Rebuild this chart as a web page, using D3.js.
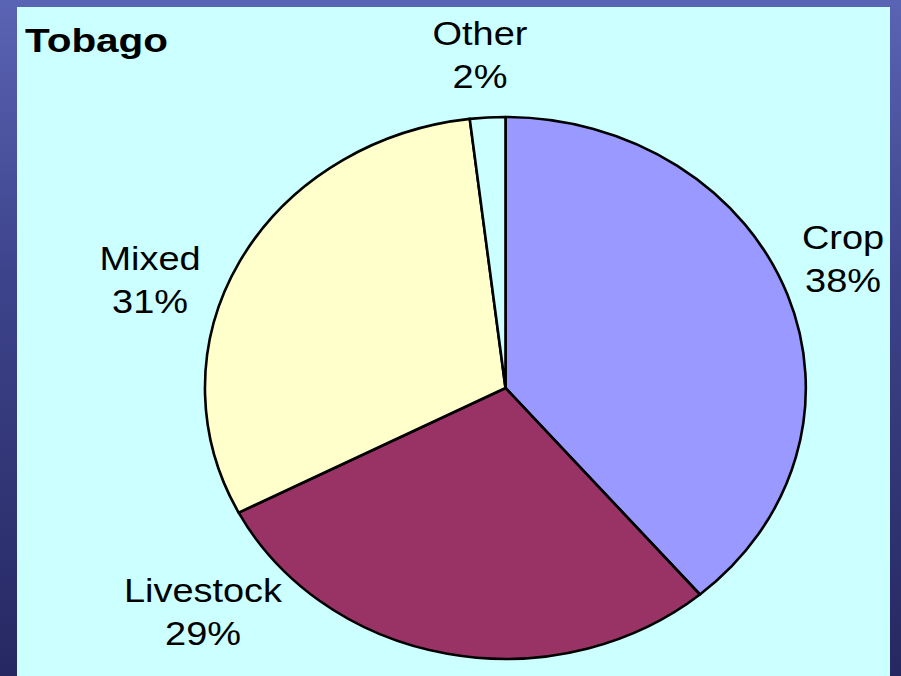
<!DOCTYPE html>
<html>
<head>
<meta charset="utf-8">
<script src="https://cdn.jsdelivr.net/npm/d3@7"></script>
<style>
  html, body { margin: 0; padding: 0; background: #2a2c6c; overflow: hidden; }
  svg { display: block; }
  text { font-family: "Liberation Sans", Arial, sans-serif; fill: #000; }
</style>
</head>
<body>
<script>
// ---- data ----
const categories = ["Crop", "Livestock", "Mixed", "Other"];
const values = [38.8, 28.6, 30.7, 1.9];
const pctLabels = ["38%", "29%", "31%", "2%"];
const colors = ["#9999ff", "#993366", "#ffffcc", "#ccffff"];
const title = "Tobago";

// ---- layout (not data) ----
const W = 901, H = 676;
const cx = 505.5, cy = 388, rx = 300.5, ry = 271;
const labelPos = { // centre x, first-line baseline y
  "Crop": [843, 249],
  "Livestock": [203, 602],
  "Mixed": [150, 270],
  "Other": [480, 45]
};
const fontSize = 33, lineGap = 43, stretch = 1.15;

const svg = d3.select("body").append("svg").attr("width", W).attr("height", H);
const defs = svg.append("defs");
const grad = defs.append("linearGradient").attr("id", "bg").attr("x1", 0).attr("y1", 0).attr("x2", 0).attr("y2", 1);
grad.append("stop").attr("offset", "0%").attr("stop-color", "#5a64b4");
grad.append("stop").attr("offset", "40%").attr("stop-color", "#3e448c");
grad.append("stop").attr("offset", "100%").attr("stop-color", "#262862");
svg.append("rect").attr("width", W).attr("height", H).attr("fill", "url(#bg)");

// panel
svg.append("rect").attr("x", 17).attr("y", 7).attr("width", 873).attr("height", H - 7).attr("fill", "#ccffff");

// title
svg.append("text").attr("transform", `translate(25,52) scale(1.19,1)`)
  .attr("font-size", 34).attr("font-weight", "bold").text(title);

// pie
const pie = d3.pie().sort(null).value(d => d.v);
const data = categories.map((c, i) => ({ c, v: values[i], color: colors[i], pct: pctLabels[i] }));
const arcs = pie(data);
const arc = d3.arc().innerRadius(0).outerRadius(1);

const g = svg.append("g").attr("transform", `translate(${cx},${cy}) scale(${rx},${ry})`);
g.selectAll("path").data(arcs).join("path")
  .attr("d", arc)
  .attr("fill", d => d.data.color)
  .attr("stroke", "#000")
  .attr("stroke-width", 2.6)
  .attr("stroke-linejoin", "round")
  .attr("vector-effect", "non-scaling-stroke");

// labels
const lg = svg.append("g");
arcs.forEach(a => {
  const [x, y] = labelPos[a.data.c];
  const t = lg.append("g").attr("transform", `translate(${x},${y}) scale(${stretch},1)`);
  t.append("text").attr("text-anchor", "middle").attr("font-size", fontSize).text(a.data.c);
  t.append("text").attr("text-anchor", "middle").attr("font-size", fontSize).attr("y", lineGap).text(a.data.pct);
});
</script>
</body>
</html>
